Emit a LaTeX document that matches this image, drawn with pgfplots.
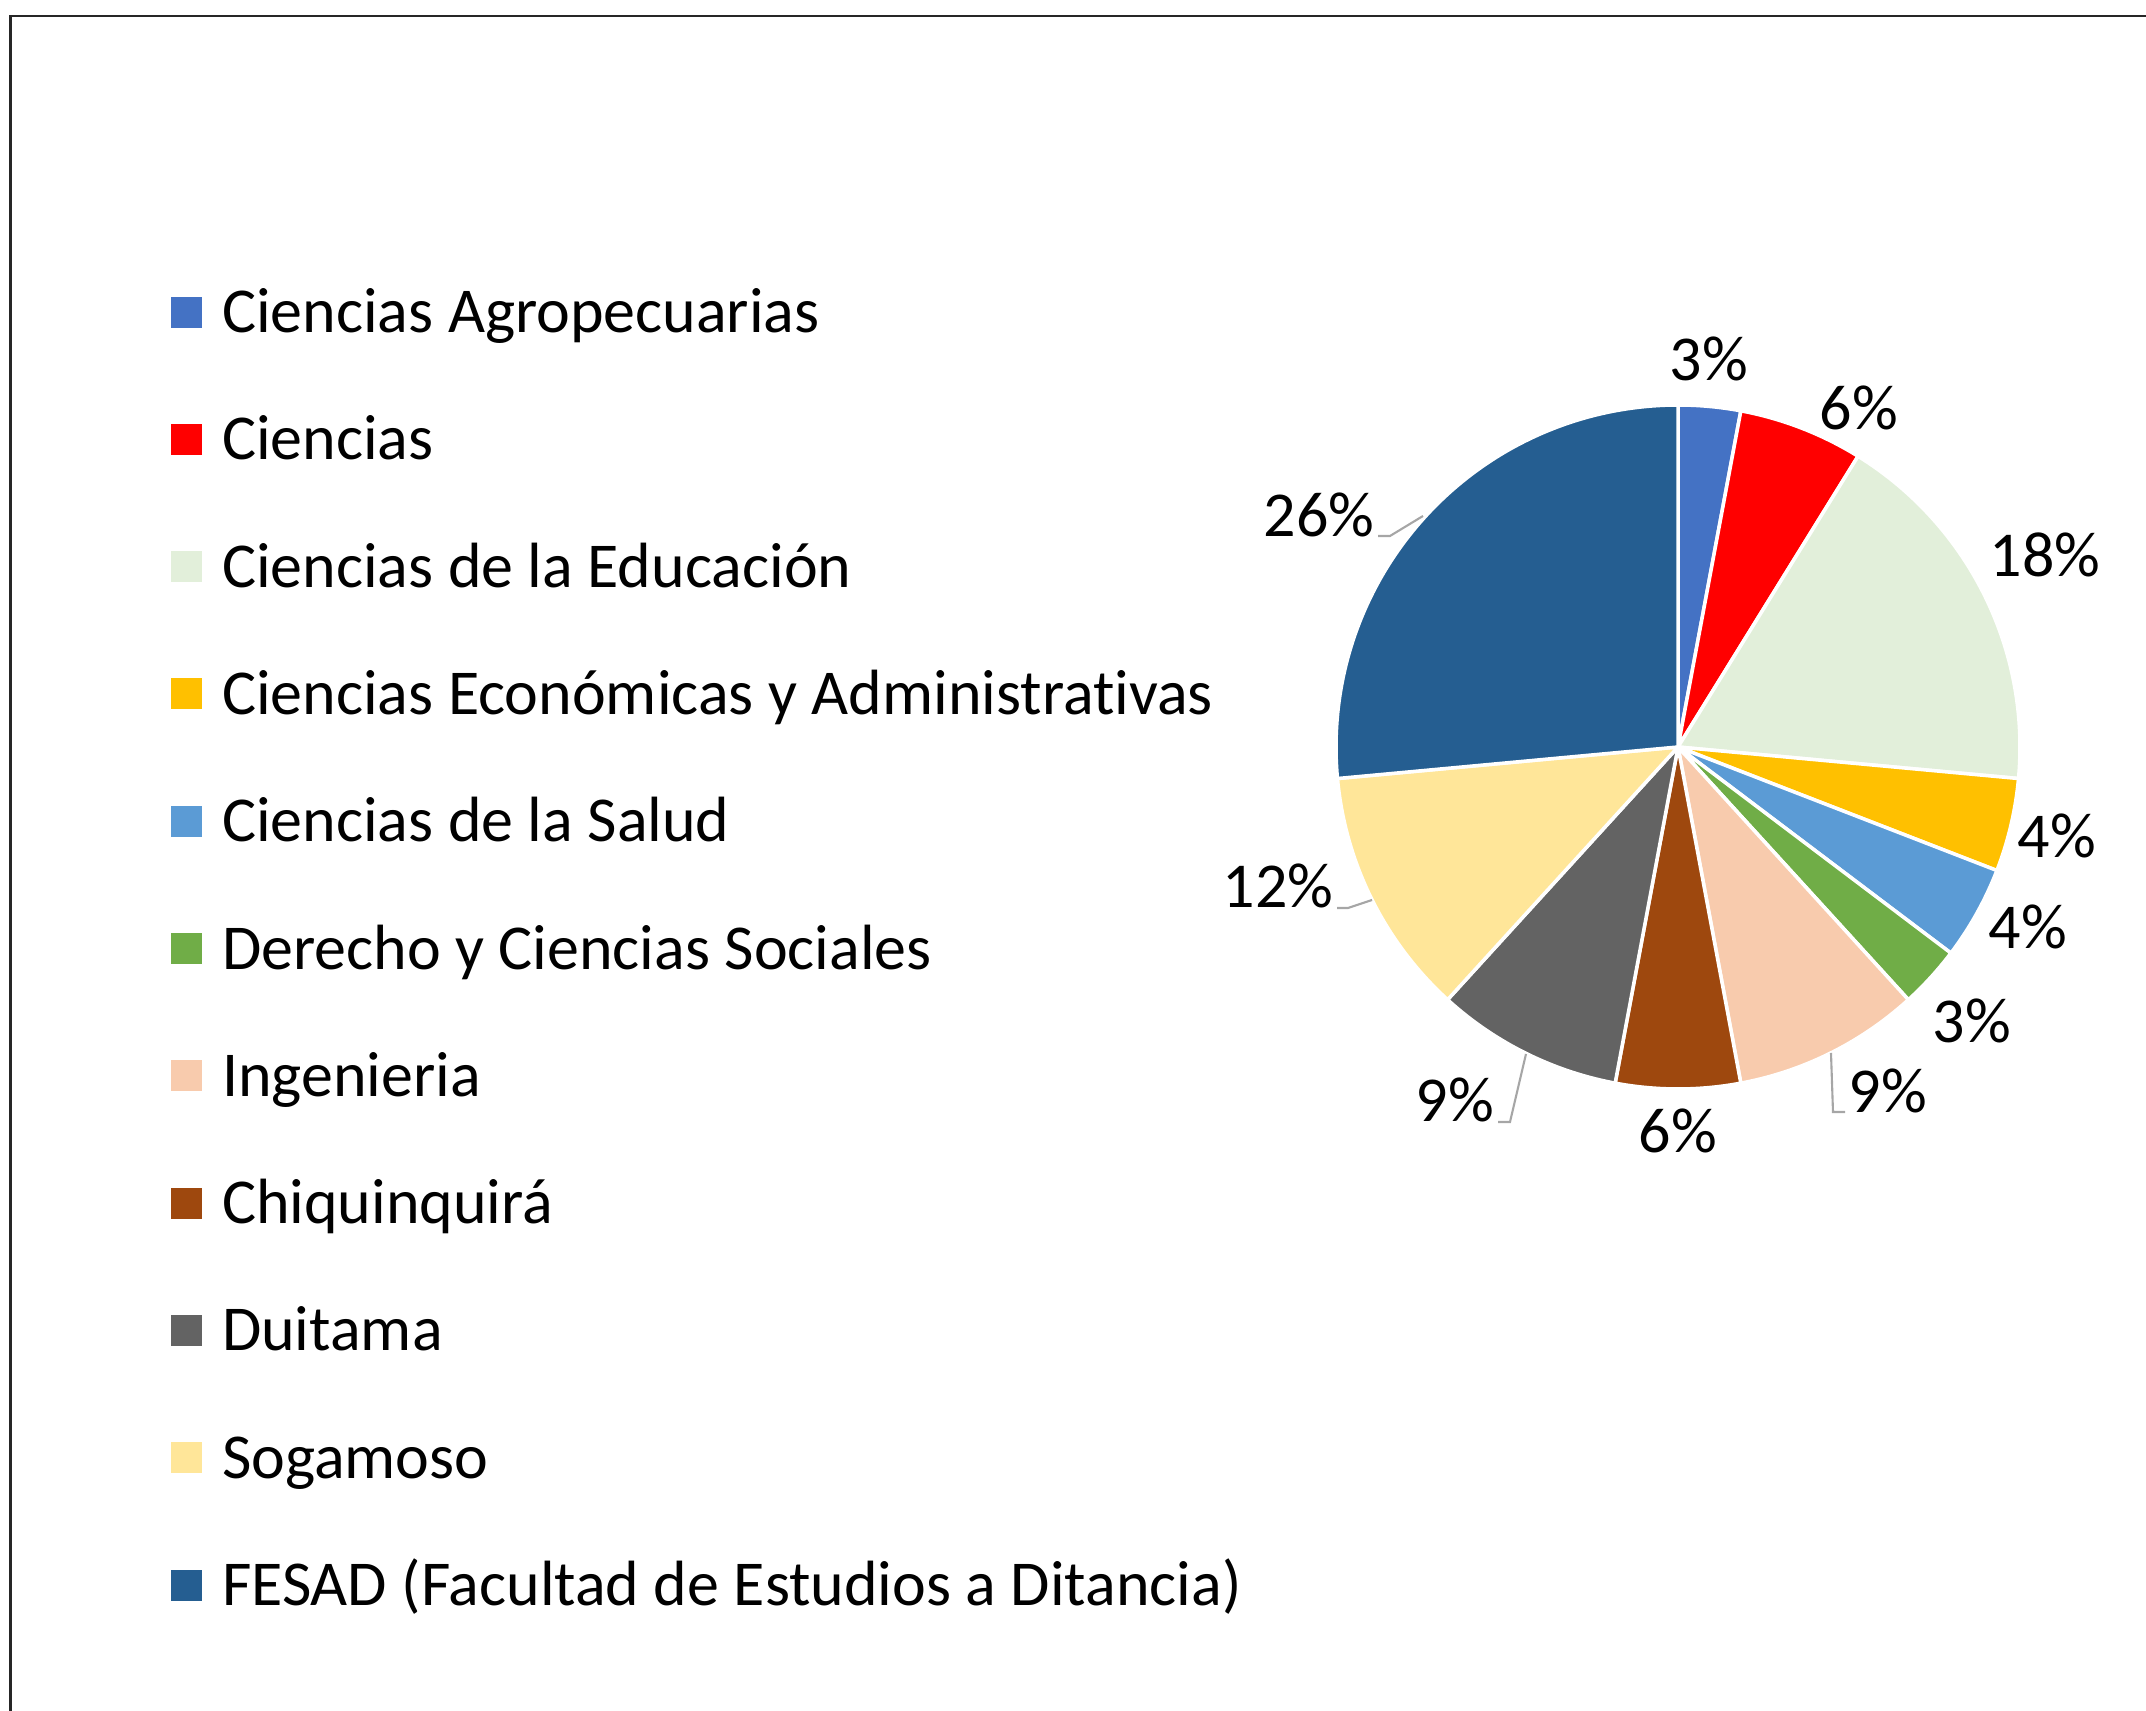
\documentclass[border=0pt]{standalone}
\usepackage{pgfplots}
\pgfplotsset{compat=1.18}
\usepackage{fontspec}
\setmainfont{Carlito}[Ligatures=NoCommon]

\definecolor{cAgro}{HTML}{4472C4}
\definecolor{cCien}{HTML}{FF0000}
\definecolor{cEdu}{HTML}{E2EFDA}
\definecolor{cEco}{HTML}{FFC000}
\definecolor{cSalud}{HTML}{5B9BD5}
\definecolor{cDer}{HTML}{70AD47}
\definecolor{cIng}{HTML}{F8CBAD}
\definecolor{cChiq}{HTML}{9E480E}
\definecolor{cDuit}{HTML}{636363}
\definecolor{cSoga}{HTML}{FFE699}
\definecolor{cFesad}{HTML}{255E91}
\definecolor{leader}{HTML}{A6A6A6}

\newcommand\lblfont{\fontsize{18.2pt}{22pt}\selectfont}

% pie geometry (axis units = px of the reference)
\def\cx{1678}
\def\cy{964}
\def\rad{342}
\def\total{68}
\pgfmathsetmacro\degper{360/\total}
\def\cum{0}

% #1 count, #2 colour, #3 legend text
\newcommand\slice[3]{%
  \pgfmathsetmacro\aEnd{90-\degper*\cum}%
  \pgfmathsetmacro\aStart{90-\degper*(\cum+#1)}%
  \pgfmathsetmacro\newcum{\cum+#1}%
  \xdef\cum{\newcum}%
  \edef\doslice{\noexpand\addplot[fill=#2, draw=white, line width=1pt,
    line join=round, domain=\aStart:\aEnd, samples=90, variable=\noexpand\t]}%
  \doslice ({\cx+\rad*cos(\t)}, {\cy+\rad*sin(\t)}) -- (axis cs:\cx,\cy) -- cycle;
  \addlegendentry{#3}%
}

\begin{document}
\begin{tikzpicture}
\useasboundingbox (0,0) rectangle (21.46cm,17.11cm);
\begin{axis}[
    at={(0,0)}, anchor=south west,
    scale only axis,
    width=21.46cm, height=17.11cm,
    xmin=0, xmax=2146, ymin=0, ymax=1711,
    hide axis,
    clip=false,
    legend cell align=left,
    legend image code/.code={\fill[#1, draw=none] (0cm,-0.155cm) rectangle (0.31cm,0.155cm);},
    legend style={
        at={(0.0797,0.8296)}, anchor=north west,
        draw=none, fill=none, inner sep=0pt, outer sep=0pt,
        row sep=0.863cm, column sep=0.20cm,
        font=\lblfont,
        nodes={inner sep=0pt, text height=0.41cm, text depth=0pt},
    },
]

\slice{2}{cAgro}{Ciencias Agropecuarias}
\slice{4}{cCien}{Ciencias}
\slice{12}{cEdu}{Ciencias de la Educación}
\slice{3}{cEco}{Ciencias Económicas y Administrativas}
\slice{3}{cSalud}{Ciencias de la Salud}
\slice{2}{cDer}{Derecho y Ciencias Sociales}
\slice{6}{cIng}{Ingenieria}
\slice{4}{cChiq}{Chiquinquirá}
\slice{6}{cDuit}{Duitama}
\slice{8}{cSoga}{Sogamoso}
\slice{18}{cFesad}{FESAD (Facultad de Estudios a Ditancia)}

% leader lines
\draw[leader, line width=0.6pt] (axis cs:1378,1175) -- (axis cs:1390,1175) -- (axis cs:1423,1195);
\draw[leader, line width=0.6pt] (axis cs:1337,803) -- (axis cs:1348,803) -- (axis cs:1372,811);
\draw[leader, line width=0.6pt] (axis cs:1498,589) -- (axis cs:1510,589) -- (axis cs:1526,657);
\draw[leader, line width=0.6pt] (axis cs:1845,599) -- (axis cs:1833,599) -- (axis cs:1831,658);

% percentage labels
\begin{scope}[every node/.style={anchor=base, inner sep=0pt, font=\lblfont}]
\node at (axis cs:1709,1330) {3\%};
\node at (axis cs:1859,1281) {6\%};
\node at (axis cs:2045,1134) {18\%};
\node at (axis cs:2057,853) {4\%};
\node at (axis cs:2028,762) {4\%};
\node at (axis cs:1972,668) {3\%};
\node at (axis cs:1888,598) {9\%};
\node at (axis cs:1678,558) {6\%};
\node at (axis cs:1455,589) {9\%};
\node at (axis cs:1278,803) {12\%};
\node at (axis cs:1319,1174) {26\%};
\end{scope}

% chart frame (top and left edges)
\draw[black!85, line width=0.7pt] (axis cs:10.5,0) -- (axis cs:10.5,1695) -- (axis cs:2146,1695);
\end{axis}
\end{tikzpicture}
\end{document}
